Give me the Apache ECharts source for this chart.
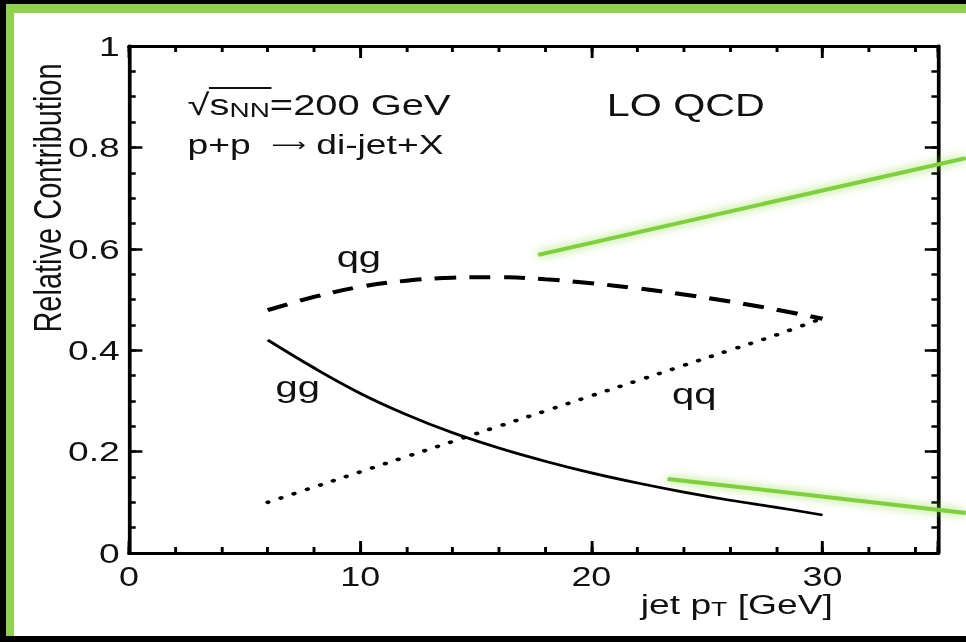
<!DOCTYPE html>
<html>
<head>
<meta charset="utf-8">
<script src="https://cdn.jsdelivr.net/npm/echarts@6/dist/echarts.min.js"></script>
<style>
  html, body { margin:0; padding:0; background:#000; width:966px; height:642px; overflow:hidden; }
  #green { position:absolute; left:6px; top:4px; width:960px; height:632px; background:#92d050; }
  #white { position:absolute; left:14px; top:13px; width:952px; height:623px; background:#fff; }
  /* the reference figure is a horizontally stretched plot: draw at 726px and stretch to 966px */
  #chart { position:absolute; left:0; top:0; width:726px; height:642px;
           transform: scaleX(1.3306); transform-origin: 0 0; }
</style>
</head>
<body>
<div id="green"></div>
<div id="white"></div>
<div id="chart"></div>
<script>
// ---- data ----
const jetPt = [6, 8, 10, 12, 14, 16, 18, 20, 22, 24, 26, 28, 30];
const qgContribution = [0.479, 0.505, 0.525, 0.537, 0.543, 0.544, 0.540, 0.532, 0.522, 0.510, 0.496, 0.480, 0.462];
const ggContribution = [0.420, 0.365, 0.315, 0.273, 0.237, 0.207, 0.181, 0.158, 0.138, 0.120, 0.104, 0.090, 0.075];
const qqContribution = [0.100, 0.130, 0.160, 0.190, 0.220, 0.250, 0.280, 0.310, 0.340, 0.370, 0.400, 0.430, 0.463];
// green callout lines (data coordinates: start x, start y, end x, end y)
const calloutUpper = [17.7, 0.588, 36.2, 0.779];
const calloutLower = [23.3, 0.146, 36.2, 0.079];
// axis ticks
const xMajorTicks = [0, 10, 20, 30];
const yMajorTicks = [0, 0.2, 0.4, 0.6, 0.8, 1];

const zip = (xs, ys) => xs.map((x, i) => [x, ys[i]]);
const FONT = 'Liberation Sans, Arial, Helvetica, sans-serif';
const black = '#000';

function xAx(pos, interval, tickLen, showLine, showLabel) {
  return {
    type: 'value', min: 0, max: 35, interval: interval, position: pos,
    axisLine: { show: showLine, onZero: false, lineStyle: { color: black, width: 3 } },
    axisTick: { show: true, inside: true, length: tickLen, lineStyle: { color: black, width: 2.2 } },
    splitLine: { show: false },
    axisLabel: {
      show: showLabel, fontSize: 27, color: '#111', fontFamily: FONT, margin: 10,
      formatter: v => (xMajorTicks.indexOf(v) >= 0 ? String(v) : '')
    }
  };
}
function yAx(pos, interval, tickLen, showLine, showLabel) {
  return {
    type: 'value', min: 0, max: 1, interval: interval, position: pos,
    axisLine: { show: showLine, onZero: false, lineStyle: { color: black, width: 2.8 } },
    axisTick: { show: true, inside: true, length: tickLen, lineStyle: { color: black, width: 2.5 } },
    splitLine: { show: false },
    axisLabel: {
      show: showLabel, fontSize: 28, color: '#111', fontFamily: FONT, margin: 7,
      formatter: v => {
        const m = yMajorTicks.find(t => Math.abs(t - v) < 1e-9);
        return m === undefined ? '' : String(Math.round(m * 10) / 10);
      }
    }
  };
}

const calloutStyle = { stroke: '#7fd13b', lineWidth: 4, shadowBlur: 10, shadowColor: 'rgba(140,215,70,0.9)' };

const chart = echarts.init(document.getElementById('chart'), null, { renderer: 'svg' });
chart.setOption({
  backgroundColor: 'transparent',
  animation: false,
  grid: { left: 97, right: 21, top: 46, bottom: 89 },
  xAxis: [
    xAx('bottom', 10, 12, true, true),
    xAx('bottom', 2, 6, false, false),
    xAx('top', 10, 12, true, false),
    xAx('top', 2, 6, false, false)
  ],
  yAxis: [
    yAx('left', 0.2, 10, true, true),
    yAx('left', 0.05, 5, false, false),
    yAx('right', 0.2, 10, true, false),
    yAx('right', 0.05, 5, false, false)
  ],
  series: [
    {
      name: 'qg', type: 'line', data: zip(jetPt, qgContribution), smooth: 0.4, symbol: 'none',
      lineStyle: { color: black, width: 4, type: [16, 10], cap: 'butt' }
    },
    {
      name: 'gg', type: 'line', data: zip(jetPt, ggContribution), smooth: 0.4, symbol: 'none',
      lineStyle: { color: black, width: 2.7 }
    },
    {
      name: 'qq', type: 'line', data: zip(jetPt, qqContribution), smooth: 0.4, symbol: 'none',
      lineStyle: { color: black, width: 3.6, type: [0.5, 10.2], cap: 'round' }
    },
    {
      name: 'callouts', type: 'custom', clip: false, z: 5,
      data: [calloutUpper, calloutLower],
      renderItem: (params, api) => {
        const p1 = api.coord([api.value(0), api.value(1)]);
        const p2 = api.coord([api.value(2), api.value(3)]);
        return {
          type: 'line',
          shape: { x1: p1[0], y1: p1[1], x2: p2[0], y2: p2[1] },
          style: calloutStyle
        };
      }
    }
  ],
  graphic: [
    { type: 'text', x: 36, y: 198, rotation: Math.PI / 2, z: 10,
      style: { text: 'Relative Contribution', font: '29px ' + FONT, fill: '#111', align: 'center', verticalAlign: 'middle' } },
    { type: 'text', x: 626, y: 589, z: 10,
      style: {
        text: '{a|jet p}{s|T}{a| [GeV]}', align: 'right',
        rich: {
          a: { font: '28px ' + FONT, fill: '#111' },
          s: { font: '20px ' + FONT, fill: '#111', padding: [10, 0, 0, 0] }
        }
      } },
    { type: 'text', x: 141, y: 88, z: 10,
      style: {
        text: '{a|\u221A}{a|s}{s|NN}{a|=200 GeV}',
        rich: {
          a: { font: '30px ' + FONT, fill: '#111' },
          s: { font: '21px ' + FONT, fill: '#111', padding: [11, 0, 0, 0] }
        }
      } },
    { type: 'line', z: 10, shape: { x1: 157, y1: 88, x2: 204, y2: 88 }, style: { stroke: '#111', lineWidth: 1.8 } },
    { type: 'text', x: 141, y: 130, z: 10,
      style: {
        text: '{a|p+p  }{r|\u27F6}{a| di-jet+X}',
        rich: {
          a: { font: '28px ' + FONT, fill: '#111' },
          r: { font: '18px DejaVu Sans, ' + FONT, fill: '#111', padding: [2, 0, 0, 0] }
        }
      } },
    { type: 'text', x: 456, y: 90, z: 10,
      style: { text: 'LO QCD', font: '31px ' + FONT, fill: '#111' } },
    { type: 'text', x: 253, y: 241, z: 10,
      style: { text: 'qg', font: '30px ' + FONT, fill: '#111' } },
    { type: 'text', x: 207, y: 371, z: 10,
      style: { text: 'gg', font: '30px ' + FONT, fill: '#111' } },
    { type: 'text', x: 505, y: 378, z: 10,
      style: { text: 'qq', font: '30px ' + FONT, fill: '#111' } }
  ]
});
</script>
</body>
</html>
